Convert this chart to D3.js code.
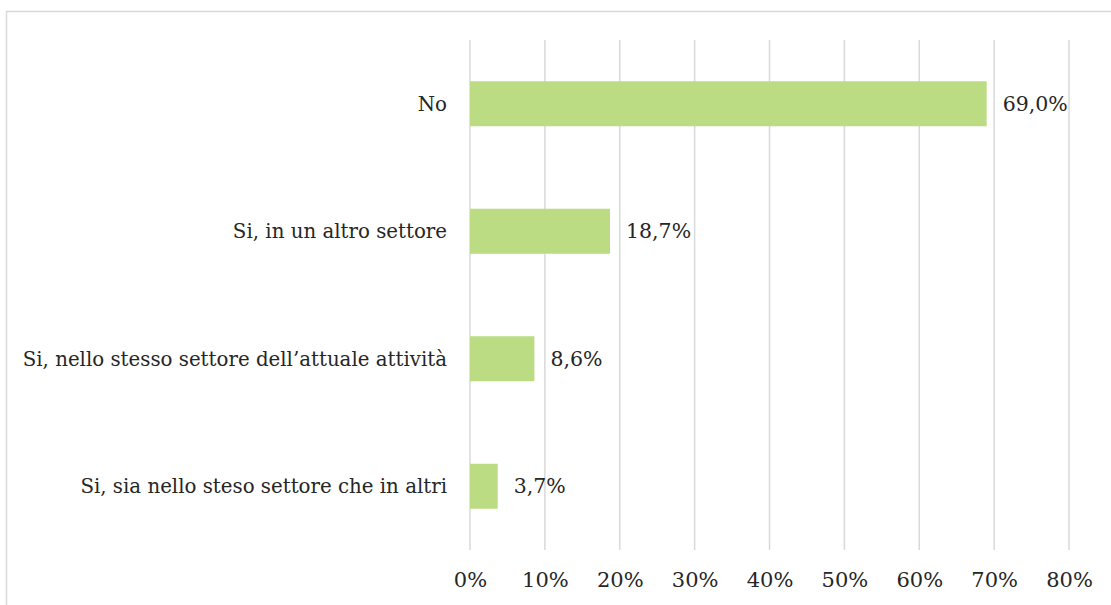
<!DOCTYPE html>
<html>
<head>
<meta charset="utf-8">
<script src="https://cdn.jsdelivr.net/npm/d3@7"></script>
<style>
  html, body { margin: 0; padding: 0; background: #fff; }
  svg { display: block; }
</style>
</head>
<body>
<svg id="chart" width="1111" height="605"></svg>
<script>
// Answers and their share of respondents (%)
const categories = [
  "No",
  "Si, in un altro settore",
  "Si, nello stesso settore dell\u2019attuale attività",
  "Si, sia nello steso settore che in altri"
];
const values = [69.0, 18.7, 8.6, 3.7];
const tickValues = [0, 10, 20, 30, 40, 50, 60, 70, 80];

const W = 1111, H = 605;
const margin = { left: 470, right: 42, top: 40, bottom: 55 };
const font = "'DejaVu Serif', 'Liberation Serif', serif";
const textColor = "#262626";

const svg = d3.select("#chart");

// Chart frame
svg.append("rect")
  .attr("x", 6.5).attr("y", 11.5)
  .attr("width", W + 20).attr("height", H + 20)
  .attr("fill", "none")
  .attr("stroke", "#d9d9d9")
  .attr("stroke-width", 1.5);

const x = d3.scaleLinear()
  .domain([0, 80])
  .range([margin.left, W - margin.right]);

const y = d3.scaleBand()
  .domain(categories)
  .range([margin.top, H - margin.bottom])
  .paddingInner(0.647)
  .paddingOuter(0.3235);

// Vertical gridlines
svg.append("g")
  .selectAll("line")
  .data(tickValues)
  .join("line")
  .attr("x1", d => x(d)).attr("x2", d => x(d))
  .attr("y1", margin.top).attr("y2", H - margin.bottom)
  .attr("stroke", "#d9d9d9")
  .attr("stroke-width", 1.5);

// Bars
svg.append("g")
  .selectAll("rect")
  .data(values)
  .join("rect")
  .attr("x", x(0))
  .attr("y", (d, i) => y(categories[i]))
  .attr("width", d => x(d) - x(0))
  .attr("height", y.bandwidth())
  .attr("fill", "#bbdc83");

// Value labels
const fmt = v => v.toFixed(1).replace(".", ",") + "%";
svg.append("g")
  .selectAll("text")
  .data(values)
  .join("text")
  .attr("x", d => x(d) + 16)
  .attr("y", (d, i) => y(categories[i]) + y.bandwidth() / 2)
  .attr("dy", "0.35em")
  .attr("font-family", font)
  .attr("font-size", 20.5)
  .attr("fill", textColor)
  .text(fmt);

// Category axis labels
svg.append("g")
  .selectAll("text")
  .data(categories)
  .join("text")
  .attr("x", margin.left - 23)
  .attr("y", d => y(d) + y.bandwidth() / 2)
  .attr("dy", "0.35em")
  .attr("text-anchor", "end")
  .attr("font-family", font)
  .attr("font-size", 19.8)
  .attr("fill", textColor)
  .text(d => d);

// Percentage axis
const xAxis = d3.axisBottom(x)
  .tickValues(tickValues)
  .tickFormat(d => d + "%")
  .tickSize(0)
  .tickPadding(0);

const axisG = svg.append("g")
  .attr("transform", `translate(0, ${H - margin.bottom})`)
  .call(xAxis);
axisG.select(".domain").remove();
axisG.selectAll("text")
  .attr("y", 30)
  .attr("dy", "0.35em")
  .attr("font-family", font)
  .attr("font-size", 21)
  .attr("fill", textColor);
</script>
</body>
</html>
